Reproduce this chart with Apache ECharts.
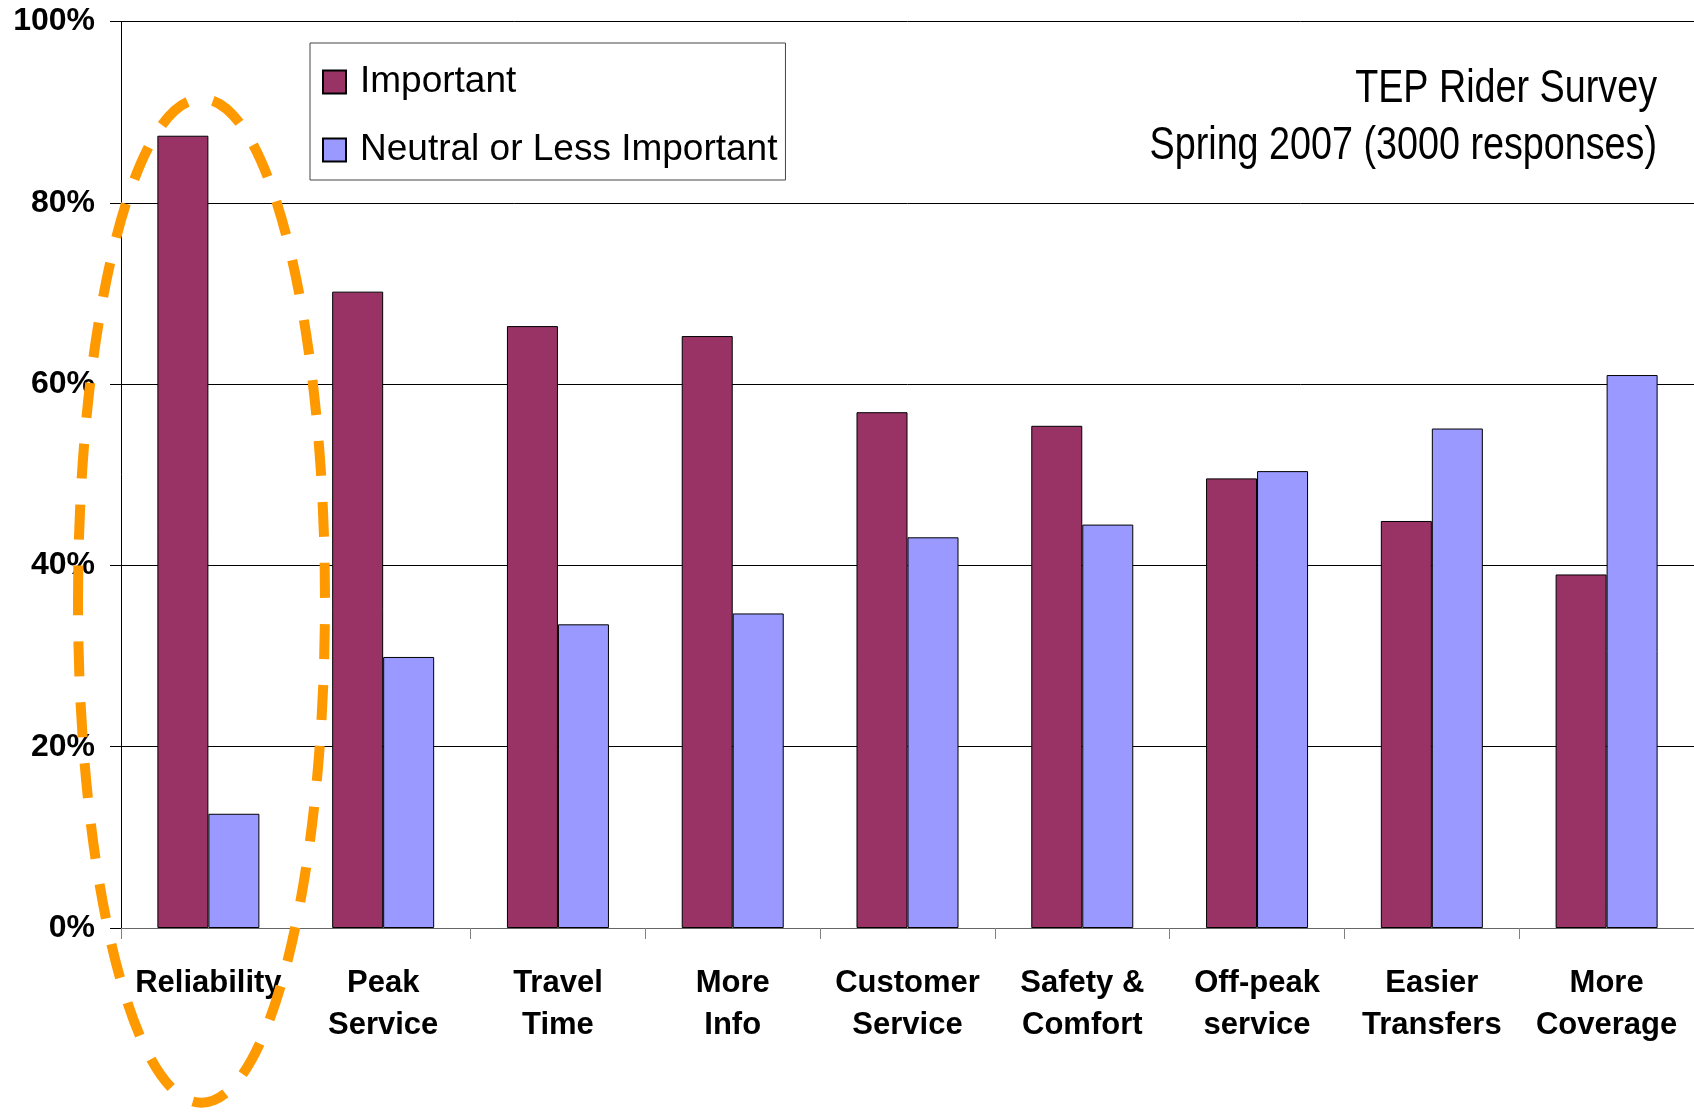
<!DOCTYPE html>
<html>
<head>
<meta charset="utf-8">
<script src="https://cdn.jsdelivr.net/npm/echarts@6/dist/echarts.min.js"></script>
<style>
html,body{margin:0;padding:0;background:#fff;}
#chart{width:1694px;height:1114px;}
</style>
</head>
<body>
<div id="chart"></div>
<script>
var categories = ["Reliability", "Peak\nService", "Travel\nTime", "More\nInfo", "Customer\nService", "Safety &\nComfort", "Off-peak\nservice", "Easier\nTransfers", "More\nCoverage"];
var important = [87.4, 70.2, 66.4, 65.3, 56.9, 55.4, 49.6, 44.9, 39.0];
var neutral = [12.6, 29.9, 33.5, 34.7, 43.1, 44.5, 50.4, 55.1, 61.0];
var seriesNames = ["Important", "Neutral or Less Important"];
var yTicks = [0, 20, 40, 60, 80, 100];
var titleLines = ["TEP Rider Survey", "Spring 2007 (3000 responses)"];

var chart = echarts.init(document.getElementById('chart'), null, {renderer: 'canvas'});
var FONT = '"Liberation Sans", Arial, sans-serif';
chart.setOption({
  animation: false,
  backgroundColor: '#ffffff',
  grid: {left: 121, top: 21.5, width: 1581, height: 906.5, containLabel: false},
  legend: {
    orient: 'vertical',
    left: 310, top: 43,
    padding: [19, 8, 10, 12],
    itemGap: 28,
    itemWidth: 23, itemHeight: 23,
    backgroundColor: '#fff',
    borderColor: '#444', borderWidth: 1,
    icon: 'rect',
    textStyle: {fontFamily: FONT, fontSize: 37, color: '#000', lineHeight: 40, padding: [0, 0, 0, 9]},
    data: seriesNames
  },
  xAxis: {
    type: 'category',
    data: categories,
    axisLine: {show: true, lineStyle: {color: '#666', width: 1}},
    axisTick: {show: true, length: 11, lineStyle: {color: '#808080'}},
    axisLabel: {interval: 0, margin: 34, fontFamily: FONT, fontSize: 31, fontWeight: 'bold', color: '#000', lineHeight: 42},
    splitLine: {show: false}
  },
  yAxis: {
    type: 'value',
    min: yTicks[0], max: yTicks[yTicks.length - 1], interval: 20,
    axisLine: {show: true, lineStyle: {color: '#000', width: 1}},
    axisTick: {show: true, length: 11, lineStyle: {color: '#000'}},
    axisLabel: {margin: 26, fontFamily: FONT, fontSize: 32, fontWeight: 'bold', color: '#000', formatter: '{value}%'},
    splitLine: {show: true, lineStyle: {color: '#000', width: 1}}
  },
  series: [
    {name: seriesNames[0], type: 'bar', data: important, barWidth: 51, barGap: '0%',
     itemStyle: {color: '#993366', borderColor: '#000', borderWidth: 1}},
    {name: seriesNames[1], type: 'bar', data: neutral, barWidth: 51, barGap: '0%',
     itemStyle: {color: '#9999FF', borderColor: '#000', borderWidth: 1}}
  ],
  graphic: [
    {type: 'text', x: 1657, y: 61, scaleX: 0.82, z: 100,
     style: {text: titleLines.join('\n'), x: 0, y: 0, fontFamily: FONT, fontSize: 46, lineHeight: 57, fill: '#000', align: 'right', verticalAlign: 'top'}},
    {type: 'ellipse', z: 200, silent: true,
     shape: {cx: 201.5, cy: 600.7, rx: 123.5, ry: 502},
     style: {fill: 'none', stroke: '#FF9900', lineWidth: 10, lineDash: [35, 26], lineCap: 'butt'}}
  ]
});
</script>
</body>
</html>
